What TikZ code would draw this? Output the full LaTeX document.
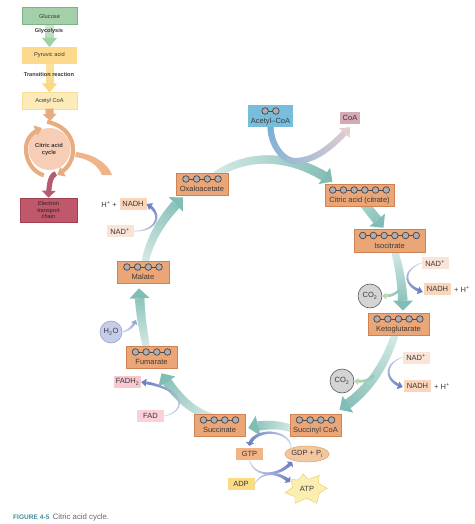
\documentclass[tikz,border=0pt]{standalone}
\usepackage{fontspec}
\setmainfont{Liberation Sans}
\usetikzlibrary{calc,decorations.markings,backgrounds,shapes.geometric}
\definecolor{txt}{HTML}{3C3838}
\definecolor{captxt}{HTML}{666666}
\definecolor{orfill}{HTML}{EBA677}
\definecolor{ordraw}{HTML}{CF8354}
\definecolor{tealA}{HTML}{D6EAE6}
\definecolor{tealB}{HTML}{80BDB5}
\definecolor{tealM}{HTML}{ABD3CD}
\definecolor{blueB}{HTML}{6C80C2}
\definecolor{blueC}{HTML}{98A6D4}
\definecolor{blueA}{HTML}{D5DAEC}
\definecolor{greenB}{HTML}{B5D8B0}
\definecolor{greenA}{HTML}{8FC6B8}
\definecolor{capteal}{HTML}{4A8A9A}
\definecolor{gluF}{RGB}{163,207,169}
\definecolor{gluD}{RGB}{128,176,136}
\definecolor{pyrF}{RGB}{252,217,140}
\definecolor{aclF}{RGB}{253,234,185}
\definecolor{aclD}{RGB}{248,222,150}
\definecolor{cycF}{RGB}{248,205,182}
\definecolor{etcF}{RGB}{192,87,106}
\definecolor{etcD}{RGB}{160,64,80}
\definecolor{gluA}{RGB}{214,232,216}
\definecolor{gluB}{RGB}{160,208,168}
\definecolor{pyrA}{RGB}{252,226,160}
\definecolor{pyrB}{RGB}{251,216,130}
\definecolor{orarr}{HTML}{E9AC80}
\definecolor{burg}{RGB}{182,90,112}
\definecolor{orbig}{RGB}{238,180,138}
\definecolor{aceF}{RGB}{120,190,220}
\definecolor{coaF}{RGB}{212,170,180}
\definecolor{aceA}{RGB}{120,175,215}
\definecolor{aceB}{RGB}{226,205,208}
\definecolor{nadp}{HTML}{F9E4D7}
\definecolor{nadh}{HTML}{F9D5BC}
\definecolor{hF}{RGB}{197,205,234}
\definecolor{hD}{RGB}{150,160,210}
\definecolor{fadhF}{RGB}{248,200,208}
\definecolor{fadF}{RGB}{251,208,214}
\definecolor{gtpF}{RGB}{242,181,131}
\definecolor{gdpF}{RGB}{244,198,159}
\definecolor{gdpD}{RGB}{222,160,110}
\definecolor{adpF}{RGB}{251,220,133}
\definecolor{atpF}{RGB}{251,238,176}
\definecolor{atpD}{RGB}{235,200,110}
\definecolor{ballF}{RGB}{176,172,176}
\tikzset{
 gradarrow/.style n args={6}{
  decoration={markings,
   mark=between positions 0 and -#5pt step 1.2pt with {
     \pgfmathsetmacro\gfrac{\pgfkeysvalueof{/pgf/decoration/mark info/distance from start}/\pgfdecoratedpathlength}
     \pgfmathsetmacro\gpct{100*\gfrac}
     \pgfmathsetmacro\gw{#3+(#4-#3)*\gfrac}
     \draw[line width=\gw pt,color={#2!\gpct!#1}] (-0.9pt,0)--(0.9pt,0);
   },
   mark=at position 1 with {
     \fill[#2] (0pt,0pt)--(-#5pt,#6pt/2)--(-#5pt,-#6pt/2)--cycle;
   }},
  decorate},
 bigarrow/.style={gradarrow={tealA}{tealB}{7}{10}{10}{20}},
 thinblue/.style={gradarrow={blueA}{blueB}{0.5}{3}{5}{8}},
 lbl/.style={font=\fontsize{7.5}{9}\selectfont,text=txt,inner sep=0pt},
 tag/.style={lbl,minimum width=27pt,minimum height=12pt},
 chainbox/.style={lbl,fill=orfill,draw=ordraw,line width=.5pt,minimum height=22pt},
 small/.style={font=\fontsize{5.7}{7}\selectfont,text=txt,inner sep=0pt,align=center},
 panel/.style={small,minimum width=55pt,minimum height=16.5pt,line width=.5pt},
 ballc/.style={circle,minimum size=6.6pt,inner sep=0pt,fill=ballF,draw=black!72,line width=.7pt},
 round/.style={lbl,circle,line width=.6pt}
}
\newcommand\chainof[2]{%
 \draw[black!70,line width=.6pt] ($(#1.center)+({(1-(#2+1)/2)*10.7},-5)$)--($(#1.center)+({(#2-(#2+1)/2)*10.7},-5)$);
 \foreach \i in {1,...,#2}{\node[ballc] (#1ball\i) at ($(#1.center)+({(\i-(#2+1)/2)*10.7},-5)$) {};}}
\newcommand\low[1]{\smash{\raisebox{-7.5pt}{#1}}}
\begin{document}
\begin{tikzpicture}[x=1pt,y=-1pt]
\useasboundingbox (0,0) rectangle (474,524);
% left panel
\node[panel,fill=gluF,draw=gluD] (glu) at (49.5,16) {Glucose};
\node[panel,fill=pyrF] (pyr) at (49.5,55.5) {Pyruvic acid};
\node[panel,fill=aclF,draw=aclD] (acl) at (49.5,101) {Acetyl CoA};
\fill[cycF] (49.5,149) circle (21);
\node[small,font=\fontsize{5.7}{7}\bfseries\selectfont] (cyc) at (49,150) {Citric acid\\cycle};
\node[small,minimum width=57pt,minimum height=24pt,fill=etcF,draw=etcD,line width=.5pt,font=\fontsize{5.7}{6.8}\selectfont,text=black!85] (etc) at (48.5,210) {Electron\\transport\\chain};
\begin{scope}[on background layer]
\path[gradarrow={gluA}{gluB}{9}{9}{9}{15}] (glu.south)--(pyr.north);
\path[gradarrow={pyrA}{pyrB}{8}{8}{9}{15}] (pyr.south)--(acl.north);
\end{scope}
\node[small,font=\fontsize{5.6}{7}\bfseries\selectfont] (gly) at (49,31) {Glycolysis};
\node[small,font=\fontsize{5.6}{7}\bfseries\selectfont] (tra) at (49,74) {Transition reaction};
\path[gradarrow={orarr}{orarr}{8}{8}{7}{14}] (acl.south)--(50,121);
\path[gradarrow={orarr}{orarr}{4}{4}{7}{11}] (48,122) .. controls (62,125) and (73,135) .. (73,150) .. controls (73,162) and (66,170) .. (57,175);
\path[gradarrow={orarr}{orarr}{4}{4}{7}{11}] (43,175) .. controls (32,171) and (26,160) .. (26,149) .. controls (26,139) and (32,132) .. (42,128);
\path[gradarrow={burg}{burg}{5}{5}{7}{14}] (55,174) .. controls (51,176) and (49,182) .. (etc.north);
\fill[orbig] (76,152) .. controls (93,154) and (108,163) .. (112,175) -- (102,175) .. controls (98,166) and (90,159) .. (75,157) -- cycle;
% cycle nodes
\node[chainbox,minimum width=52pt] (oxa) at (202,184) {\low{Oxaloacetate}};
\node[chainbox,minimum width=69pt] (cit) at (359.5,195) {\low{Citric acid (citrate)}};
\node[chainbox,minimum width=71pt,minimum height=23pt] (iso) at (389.5,240.5) {\low{Isocitrate}};
\node[chainbox,minimum width=61pt] (ket) at (398.5,324) {\low{Ketoglutarate}};
\node[chainbox,minimum width=51pt] (suc) at (315.5,425) {\low{Succinyl CoA}};
\node[chainbox,minimum width=51pt] (sua) at (219.5,425) {\low{Succinate}};
\node[chainbox,minimum width=51pt] (fum) at (151.5,357) {\low{Fumarate}};
\node[chainbox,minimum width=52pt] (mal) at (143,272) {\low{Malate}};
\chainof{oxa}{4}\chainof{cit}{6}\chainof{iso}{6}\chainof{ket}{5}\chainof{suc}{4}\chainof{sua}{4}\chainof{fum}{4}\chainof{mal}{4}
% acetyl
\node[lbl,fill=aceF,minimum width=45pt,minimum height=22pt] (ace) at (270.5,116) {\low{Acetyl–CoA}};
\chainof{ace}{2}
\node[lbl,fill=coaF,minimum width=20pt,minimum height=12pt] (coa) at (350,118) {CoA};
% tags
\node[tag,fill=nadp] (nadA) at (435,263) {NAD\textsuperscript{+}};
\node[tag,fill=nadh] (nadhA) at (437.5,289) {NADH};
\node[lbl,anchor=west] (plusA) at (454,289) {+ H\textsuperscript{+}};
\node[tag,fill=nadp] (nadB) at (416,357.5) {NAD\textsuperscript{+}};
\node[tag,fill=nadh] (nadhB) at (417.5,385.5) {NADH};
\node[lbl,anchor=west] (plusB) at (434,386) {+ H\textsuperscript{+}};
\node[tag,fill=nadp] (nadC) at (120,231) {NAD\textsuperscript{+}};
\node[tag,fill=nadh] (nadhC) at (133,204) {NADH};
\node[lbl,anchor=east] (plusC) at (117,204) {H\textsuperscript{+} +};
\node[round,minimum size=24pt,fill=black!17,draw=black!65] (coA) at (370,296) {CO\textsubscript{2}};
\node[round,minimum size=24pt,fill=black!17,draw=black!65] (coB) at (342,381) {CO\textsubscript{2}};
\node[round,minimum size=22pt,fill=hF,draw=hD] (h2o) at (111,332) {H\textsubscript{2}O};
\node[tag,fill=fadhF] (fadh) at (127.5,382) {FADH\textsubscript{2}};
\node[tag,fill=fadF] (fad) at (150.5,416) {FAD};
\node[tag,fill=gtpF] (gtp) at (249.5,454) {GTP};
\node[lbl,ellipse,minimum width=42pt,minimum height=16pt,fill=gdpF,draw=gdpD,line width=.5pt] (gdp) at (307,454) {GDP + P\textsubscript{i}};
\node[tag,fill=adpF] (adp) at (241,484) {ADP};
\filldraw[fill=atpF,draw=atpD,line width=.4pt] (303.3,474)--(308.3,479.3)--(319.3,475.3)--(318.3,483.3)--(327.3,488.3)--(319.3,493.3)--(316.7,503.3)--(306.7,498.3)--(295,503.3)--(295,496.7)--(285,492.7)--(292.7,487.3)--(290.7,479.3)--(298.3,480)--cycle;
\node[lbl] (atp) at (307,489) {ATP};
% connectors
\begin{scope}[on background layer]
\path[bigarrow] ($(oxa.north)+(14,2)$) .. controls (250,152) and (295,155) .. ($(cit.north)+(-27,-2)$);
\path[gradarrow={tealM}{tealB}{9}{10}{10}{20}] ($(cit.south)+(5,-2)$) -- ($(iso.north)+(-6,-1)$);
\path[bigarrow] ($(iso.south)+(5,-2)$) .. controls (400,270) and (403,290) .. ($(ket.north)+(4.5,-2)$);
\path[bigarrow] ($(ket.south)+(-3,-2)$) .. controls (385,365) and (370,390) .. ($(suc.north)+(24,-4)$);
\path[bigarrow] ($(suc.west)+(2,4)$) .. controls (280,424) and (265,424) .. ($(sua.east)+(3,3)$);
\path[bigarrow] ($(sua.north)+(-8,3)$) .. controls (192,412) and (175,395) .. ($(fum.south)+(10,5)$);
\path[bigarrow] ($(fum.north)+(-5,2)$) .. controls (142,325) and (140,310) .. ($(mal.south)+(-4,5)$);
\path[bigarrow] ($(mal.north)+(2,2)$) .. controls (150,238) and (163,217) .. ($(oxa.south)+(-19,2)$);
\path[gradarrow={aceA}{aceB}{6}{6}{8}{14}] (ace.south) .. controls (271,145) and (283,161) .. (295,161) .. controls (317,161) and (335,143) .. ($(coa.south)+(0,3)$);
\end{scope}
\path[thinblue] (nadA.west) .. controls (403,270) and (402,285) .. ($(nadhA.west)+(-1,3)$);
\path[thinblue] (nadB.west) .. controls (385,363) and (383,380) .. ($(nadhB.west)+(-1,1.5)$);
\path[gradarrow={greenA}{greenB}{2}{3}{4}{7}] (398,291) .. controls (394,295) and (390,296) .. (coA.east);
\path[gradarrow={greenA}{greenB}{2}{3}{4}{7}] (373,376) .. controls (368,381) and (362,382) .. (coB.east);
\path[thinblue] (nadC.east) .. controls (155,232) and (165,215) .. (nadhC.east);
\path[gradarrow={blueA}{blueC}{1}{3}{4}{7}] (h2o.east) .. controls (130,330) and (133,326) .. (136,320);
\path[thinblue] (fad.east) .. controls (188,411) and (185,388) .. (fadh.east);
\path[gradarrow={blueA}{blueB}{0.7}{3.5}{3.5}{9}] (gdp.north west) .. controls (290,428) and (252,428) .. ($(gtp.north)+(0,-2)$);
\path[gradarrow={blueA}{blueB}{0.7}{3.5}{3.5}{9}] (gtp.south) .. controls (254,477) and (278,478) .. ($(gdp.south west)+(1,2)$);
\path[gradarrow={blueA}{blueB}{0.7}{3.5}{3.5}{9}] (adp.east) .. controls (262,471) and (278,471) .. ($(atp)+(-17,-7)$);
\node[anchor=west,inner sep=0pt] (cap) at (13,517) {\fontsize{6.6}{8}\bfseries\selectfont\textcolor{capteal}{FIGURE 4-5}\enspace\fontsize{7.8}{9}\mdseries\selectfont\textcolor{captxt}{Citric acid cycle.}};
\end{tikzpicture}
\end{document}
